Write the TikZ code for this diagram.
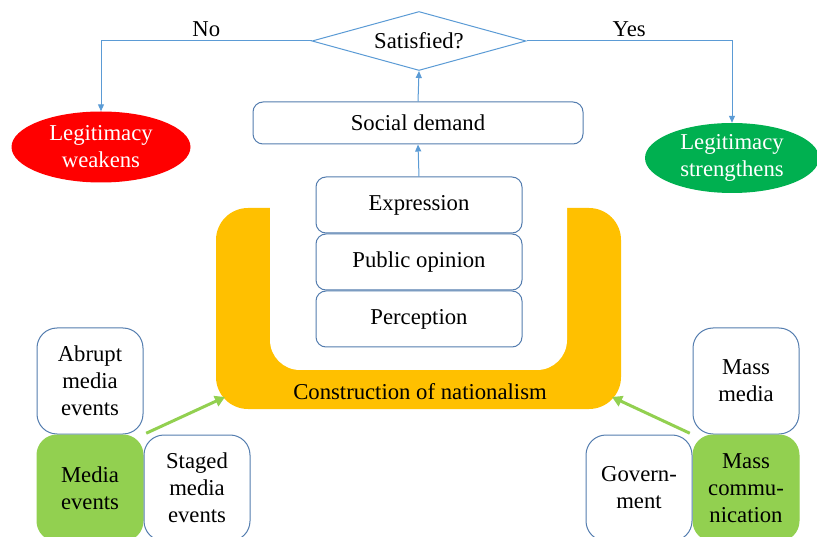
\documentclass[tikz,border=0pt]{standalone}
\usepackage{fontspec}
\setmainfont{Liberation Serif}
\usetikzlibrary{positioning,shapes.geometric,arrows.meta}
\definecolor{boxblue}{RGB}{84,125,175}
\definecolor{linkblue}{RGB}{91,155,213}
\definecolor{natyellow}{RGB}{255,192,0}
\definecolor{evgreen}{RGB}{146,208,80}
\definecolor{okgreen}{RGB}{0,176,80}

\begin{document}
\begin{tikzpicture}[x=1pt,y=-1pt,
   txt/.style={font=\fontsize{22.7}{27}\selectfont},
   stage/.style={txt,draw=boxblue,line width=1pt,fill=white,rounded corners=10pt,
     minimum width=206pt,minimum height=56pt,inner sep=0pt},
   actor/.style={txt,draw=boxblue,line width=1pt,fill=white,rounded corners=20pt,
     minimum width=106pt,minimum height=106pt,inner sep=0pt,align=center},
   actor main/.style={actor,fill=evgreen,draw=evgreen},
   outcome/.style={txt,ellipse,fill=#1,text=white,minimum width=179pt,
     minimum height=71pt,inner sep=0pt,align=center},
   link/.style={draw=linkblue,line width=1pt,-{Triangle[length=7pt,width=6pt]}},
   feed/.style={draw=evgreen,line width=3pt,-{Triangle[length=10pt,width=11pt]}},
   lbl/.style={txt,inner sep=0pt,above=4pt},
   node distance=0pt]

 \useasboundingbox (0,0) rectangle (817,537);
 \clip (0,0) rectangle (817,537);

 % U-shaped band
 \fill[natyellow,rounded corners=32pt] (216,208) rectangle (621,409);
 \fill[white,rounded corners=30pt] (270,150) rectangle (567,370);
 \node[txt] (nat) at (420,392) {Construction of nationalism};
 \coordinate (natL) at (225,397);
 \coordinate (natR) at (612,397);

 % stacked stages
 \node[stage] (expr) at (419,205) {Expression};
 \node[stage, below=of expr] (pub) {Public opinion};
 \node[stage, below=of pub] (perc) {Perception};

 \node[stage, minimum width=330pt, minimum height=42pt] (soc) at (418,123) {Social demand};
 \node[txt,diamond,draw=linkblue,line width=1pt,fill=white,aspect=3.6,
   minimum width=214pt,minimum height=59pt,inner sep=0pt] (sat) at (419,41) {Satisfied?};

 \node[outcome=red] (weak) at (101,147) {Legitimacy\\weakens};
 \node[outcome=okgreen, minimum width=174pt, minimum height=70pt] (strong) at (732,158) {Legitimacy\\strengthens};

 \draw[link] (soc.north) -- (sat.south);
 \draw[link] (expr.north) -- (soc.south);
 \draw[link] (sat.west) -| node[pos=0.25,lbl]{No} (weak.north);
 \draw[link] (sat.east) -| node[pos=0.25,lbl]{Yes} (strong.north);

 % media side
 \node[actor] (abrupt) at (90,381) {Abrupt\\media\\events};
 \node[actor main, below=of abrupt] (media) {Media\\events};
 \node[actor, right=of media] (staged) {Staged\\media\\events};

 % communication side
 \node[actor] (massmedia) at (746,381) {Mass\\media};
 \node[actor main, below=of massmedia] (masscomm) {Mass\\commu-\\nication};
 \node[actor, left=of masscomm] (gov) {Govern-\\ment};

 \draw[feed, shorten <=3pt] (media.north east) -- (natL);
 \draw[feed, shorten <=3pt] (masscomm.north west) -- (natR);

\end{tikzpicture}
\end{document}
